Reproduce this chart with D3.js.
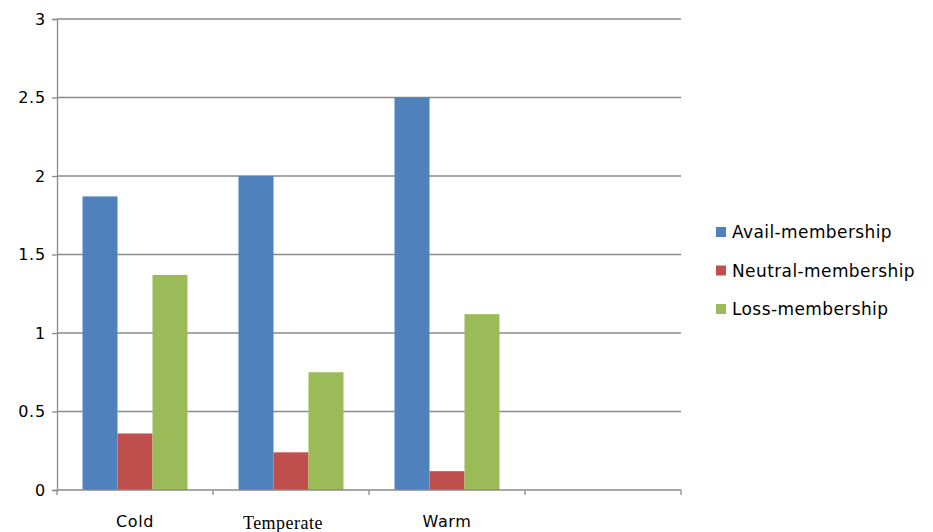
<!DOCTYPE html>
<html>
<head>
<meta charset="utf-8">
<script src="https://cdn.jsdelivr.net/npm/d3@7"></script>
<style>
  html, body { margin: 0; padding: 0; background: #fff; }
  svg { display: block; }
  text { font-family: "DejaVu Sans", sans-serif; fill: #000; }
</style>
</head>
<body>
<svg id="chart" width="933" height="532"></svg>
<script>
// Categories (the fourth slot on the axis is left empty)
const categories = ["Cold", "Temperate", "Warm", ""];
const seriesNames = ["Avail-membership", "Neutral-membership", "Loss-membership"];
const availValues = [1.87, 2.0, 2.5];
const neutralValues = [0.36, 0.24, 0.12];
const lossValues = [1.37, 0.75, 1.12];
const yTicks = [0, 0.5, 1, 1.5, 2, 2.5, 3];
const colors = ["#4F81BD", "#C0504D", "#9BBB59"];

const seriesValues = [availValues, neutralValues, lossValues];

const svg = d3.select("#chart");
const plot = { left: 57, right: 681, top: 19, bottom: 490 };

const y = d3.scaleLinear().domain([0, 3]).range([plot.bottom, plot.top]);
const x0 = d3.scaleBand()
  .domain(categories)
  .range([plot.left, plot.right])
  .paddingInner(0.327)
  .paddingOuter(0.1635);
const x1 = d3.scaleBand()
  .domain(seriesNames)
  .range([0, x0.bandwidth()]);

// Horizontal gridlines
svg.append("g")
  .selectAll("line")
  .data(yTicks.filter(d => d > 0))
  .join("line")
  .attr("x1", plot.left).attr("x2", plot.right)
  .attr("y1", d => y(d)).attr("y2", d => y(d))
  .attr("stroke", "#8a8a8a").attr("stroke-width", 1.3);

// Y axis
const yAxis = svg.append("g")
  .attr("transform", `translate(${plot.left},0)`)
  .call(d3.axisLeft(y).tickValues(yTicks).tickSize(5).tickPadding(6).tickFormat(d3.format("")));
yAxis.select(".domain").attr("stroke", "#8a8a8a").attr("stroke-width", 1.3);
yAxis.selectAll(".tick line").attr("stroke", "#8a8a8a").attr("stroke-width", 1.3);
yAxis.selectAll(".tick text")
  .style("font-family", "'DejaVu Sans', sans-serif")
  .style("font-size", "16px")
  .style("letter-spacing", "0.8px")
  .attr("fill", "#000");

// Bars
const groups = svg.append("g")
  .selectAll("g")
  .data(categories.slice(0, 3))
  .join("g")
  .attr("transform", d => `translate(${x0(d)},0)`);

groups.selectAll("rect")
  .data((c, i) => seriesNames.map((s, j) => ({ series: s, value: seriesValues[j][i], color: colors[j] })))
  .join("rect")
  .attr("x", d => x1(d.series))
  .attr("width", x1.bandwidth())
  .attr("y", d => y(d.value))
  .attr("height", d => y(0) - y(d.value))
  .attr("fill", d => d.color);

// X axis baseline with tick marks at category boundaries
const xg = svg.append("g");
xg.append("line")
  .attr("x1", plot.left).attr("x2", plot.right)
  .attr("y1", plot.bottom).attr("y2", plot.bottom)
  .attr("stroke", "#8a8a8a").attr("stroke-width", 1.3);
const step = x0.step();
xg.selectAll("line.tick")
  .data(d3.range(categories.length + 1))
  .join("line")
  .attr("class", "tick")
  .attr("x1", i => plot.left + i * step).attr("x2", i => plot.left + i * step)
  .attr("y1", plot.bottom).attr("y2", plot.bottom + 5)
  .attr("stroke", "#8a8a8a").attr("stroke-width", 1.3);

// Category labels
const labelFonts = {
  "Cold": "'DejaVu Sans', sans-serif",
  "Temperate": "'Liberation Serif', serif",
  "Warm": "'DejaVu Sans', sans-serif"
};
const labelShift = { "Cold": 0, "Temperate": -8, "Warm": 0 };
xg.selectAll("text")
  .data(categories.slice(0, 3))
  .join("text")
  .attr("x", d => x0(d) + x0.bandwidth() / 2 + labelShift[d])
  .attr("y", d => d === "Temperate" ? 529 : 527)
  .attr("text-anchor", "middle")
  .style("font-family", d => labelFonts[d])
  .style("font-size", d => d === "Temperate" ? "18px" : "16px")
  .style("letter-spacing", d => d === "Temperate" ? "0.5px" : "0.6px")
  .text(d => d);

// Legend
const legend = svg.append("g").attr("transform", "translate(716,232)");
const items = legend.selectAll("g")
  .data(seriesNames)
  .join("g")
  .attr("transform", (d, i) => `translate(0,${i * 38.5})`);
items.append("rect")
  .attr("x", 0).attr("y", -5).attr("width", 10).attr("height", 10)
  .attr("fill", (d, i) => colors[i]);
items.append("text")
  .attr("x", 16).attr("y", 6)
  .style("font-size", "17px")
  .style("letter-spacing", "0.4px")
  .text(d => d);
</script>
</body>
</html>
